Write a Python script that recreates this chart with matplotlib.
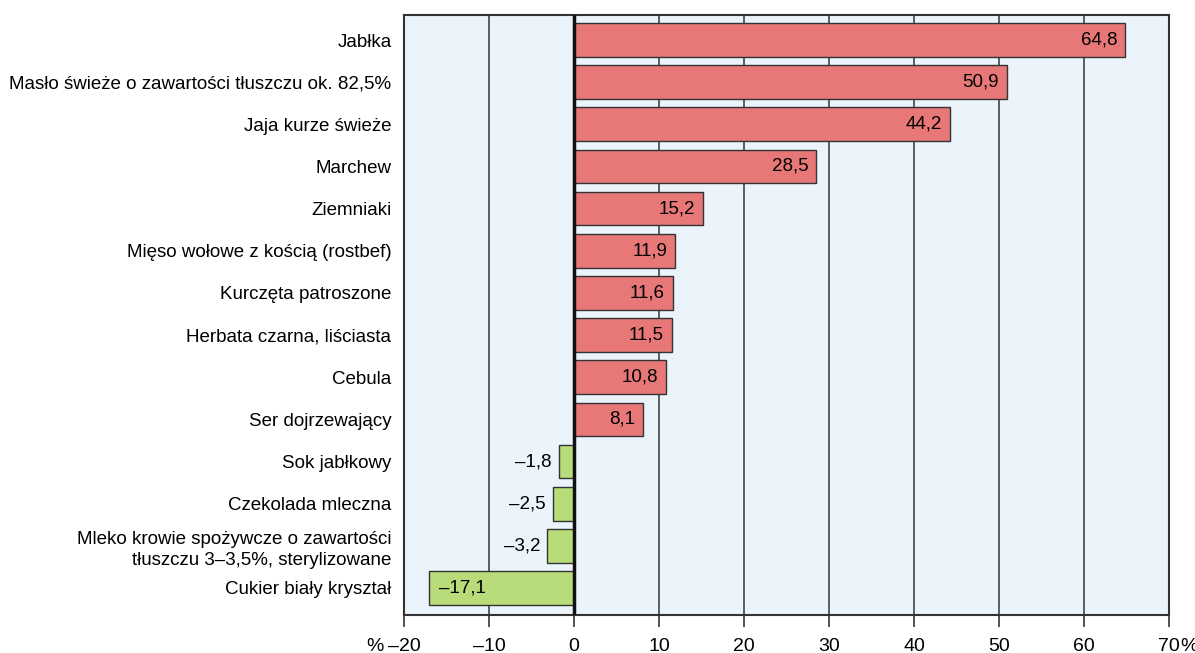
import matplotlib
matplotlib.use("Agg")
import matplotlib.pyplot as plt

categories = [
    "Jabłka",
    "Masło świeże o zawartości tłuszczu ok. 82,5%",
    "Jaja kurze świeże",
    "Marchew",
    "Ziemniaki",
    "Mięso wołowe z kością (rostbef)",
    "Kurczęta patroszone",
    "Herbata czarna, liściasta",
    "Cebula",
    "Ser dojrzewający",
    "Sok jabłkowy",
    "Czekolada mleczna",
    "Mleko krowie spożywcze o zawartości\ntłuszczu 3–3,5%, sterylizowane",
    "Cukier biały kryształ",
]
values = [64.8, 50.9, 44.2, 28.5, 15.2, 11.9, 11.6, 11.5, 10.8, 8.1, -1.8, -2.5, -3.2, -17.1]
xticks = [-20, -10, 0, 10, 20, 30, 40, 50, 60, 70]
xticklabels = ["–20", "–10", "0", "10", "20", "30", "40", "50", "60", "70"]

plt.rcParams['font.family'] = ['Liberation Sans', 'DejaVu Sans']
fig = plt.figure(figsize=(11.95, 6.53), dpi=100)
ax = fig.add_axes([404/1195, 1-615/653, (1169-404)/1195, 600/653])
ax.set_facecolor("#EBF4FB")

red = "#E87878"
green = "#B8DC7A"
ypos = list(range(len(categories)))
colors = [red if v >= 0 else green for v in values]
ax.barh(ypos, values, height=0.8, color=colors, edgecolor="#333333", linewidth=1.0, zorder=3)

for y, v in zip(ypos, values):
    txt = f"{v:.1f}".replace(".", ",").replace("-", "–")
    if v >= 0:
        ax.text(v - 0.9, y, txt, ha="right", va="center", fontsize=13.5, zorder=4)
    elif v < -10:
        ax.text(v + 1.2, y, txt, ha="left", va="center", fontsize=13.5, zorder=4)
    else:
        ax.text(v - 0.8, y, txt, ha="right", va="center", fontsize=13.5, zorder=4)

ax.set_xlim(-20, 70)
ax.set_ylim(13 + 27/42.15, -25/42.15)
ax.set_xticks(xticks)
ax.set_xticklabels(xticklabels, fontsize=14)
ax.set_yticks(ypos)
ax.set_yticklabels(categories, fontsize=13.5, linespacing=1.3)
ax.tick_params(axis="y", length=0, pad=9)
ax.tick_params(axis="x", length=8.5, width=1.2, color="#333333", pad=8)

# percent signs attached to the end tick labels
fig.canvas.draw()
labels = ax.get_xticklabels()
first_bb = labels[0].get_window_extent()
last_bb = labels[-1].get_window_extent()
ymid = (first_bb.y0 + first_bb.y1) / 2
fig.text((first_bb.x0 - 4) / fig.dpi / fig.get_figwidth(), ymid / fig.dpi / fig.get_figheight(),
         "%", ha="right", va="center", fontsize=14)
fig.text((last_bb.x1) / fig.dpi / fig.get_figwidth(), ymid / fig.dpi / fig.get_figheight(),
         "%", ha="left", va="center", fontsize=14)

for t in xticks:
    if t not in (-20, 0, 70):
        ax.axvline(t, color="#444444", linewidth=1.2, zorder=1)
ax.axvline(0, color="#111111", linewidth=2.5, zorder=5)
for s in ax.spines.values():
    s.set_color("#333333")
    s.set_linewidth(1.5)

fig.savefig("out.png", dpi=100)
